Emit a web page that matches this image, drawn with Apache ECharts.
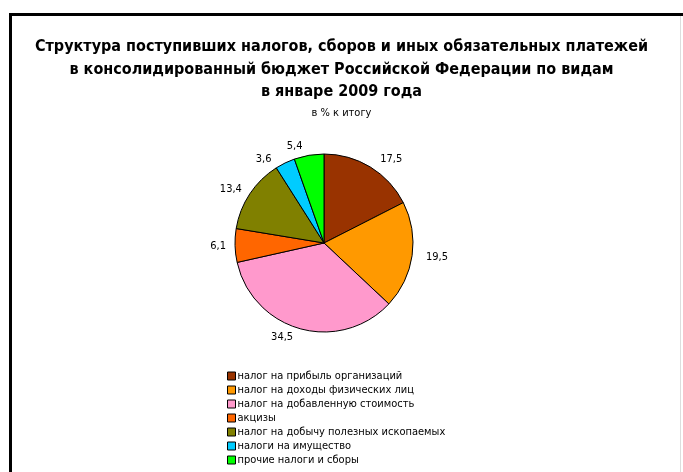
<!DOCTYPE html>
<html>
<head>
<meta charset="utf-8">
<script src="https://cdn.jsdelivr.net/npm/echarts@6/dist/echarts.min.js"></script>
<style>
  html, body { margin: 0; padding: 0; background: #fff; }
  #chart { width: 683px; height: 472px; }
</style>
</head>
<body>
<div id="chart"></div>
<script>
// data
let names = [
  'налог на прибыль организаций',
  'налог на доходы физических лиц',
  'налог на добавленную стоимость',
  'акцизы',
  'налог на добычу полезных ископаемых',
  'налоги на имущество',
  'прочие налоги и сборы'
];
let values = [17.5, 19.5, 34.5, 6.1, 13.4, 3.6, 5.4];
let colors = ['#993300', '#ff9900', '#ff99cc', '#ff6600', '#808000', '#00ccff', '#00ff00'];

let myChart = echarts.init(document.getElementById('chart'));
let font = '"Liberation Sans Narrow", "DejaVu Sans Condensed", "Liberation Sans", sans-serif';

let itemData = names.map((n, i) => ({
  name: n,
  value: values[i],
  itemStyle: { color: colors[i] }
}));

let option = {
  animation: false,
  title: [
    {
      text: 'Структура поступивших налогов, сборов и иных обязательных платежей\nв консолидированный бюджет Российской Федерации по видам\nв январе 2009 года',
      left: 'center',
      top: 31,
      textStyle: {
        fontFamily: font,
        fontSize: 16,
        fontWeight: 'bold',
        color: '#000',
        lineHeight: 22.5
      }
    },
    {
      text: 'в % к итогу',
      left: 'center',
      top: 103,
      textStyle: {
        fontFamily: font,
        fontSize: 11,
        fontWeight: 'normal',
        color: '#000'
      }
    }
  ],
  legend: {
    orient: 'vertical',
    left: 227,
    top: 370,
    height: 110,
    padding: 0,
    itemWidth: 8,
    itemHeight: 8,
    itemGap: 2,
    icon: 'rect',
    itemStyle: { borderColor: '#000', borderWidth: 1 },
    textStyle: { fontFamily: font, fontSize: 11, lineHeight: 12, color: '#000', padding: [0, 0, 0, -3] },
    data: names
  },
  graphic: [
    { type: 'rect', shape: { x: 9, y: 13, width: 700, height: 3 }, style: { fill: '#000' } },
    { type: 'rect', shape: { x: 9, y: 13, width: 3, height: 470 }, style: { fill: '#000' } },
    { type: 'rect', shape: { x: 680, y: 16, width: 1, height: 460 }, style: { fill: '#ddd' } }
  ],
  series: [{
    type: 'pie',
    center: [324, 243],
    radius: [0, 89],
    startAngle: 90,
    clockwise: true,
    legendHoverLink: false,
    emphasis: { disabled: true },
    itemStyle: { borderColor: '#000', borderWidth: 1 },
    label: {
      show: true,
      position: 'outside',
      fontFamily: font,
      fontSize: 11,
      color: '#000',
      formatter: p => String(p.value).replace('.', ',')
    },
    labelLine: { show: false, length: 9, length2: 0 },
    data: itemData
  }]
};
myChart.setOption(option);
</script>
</body>
</html>
